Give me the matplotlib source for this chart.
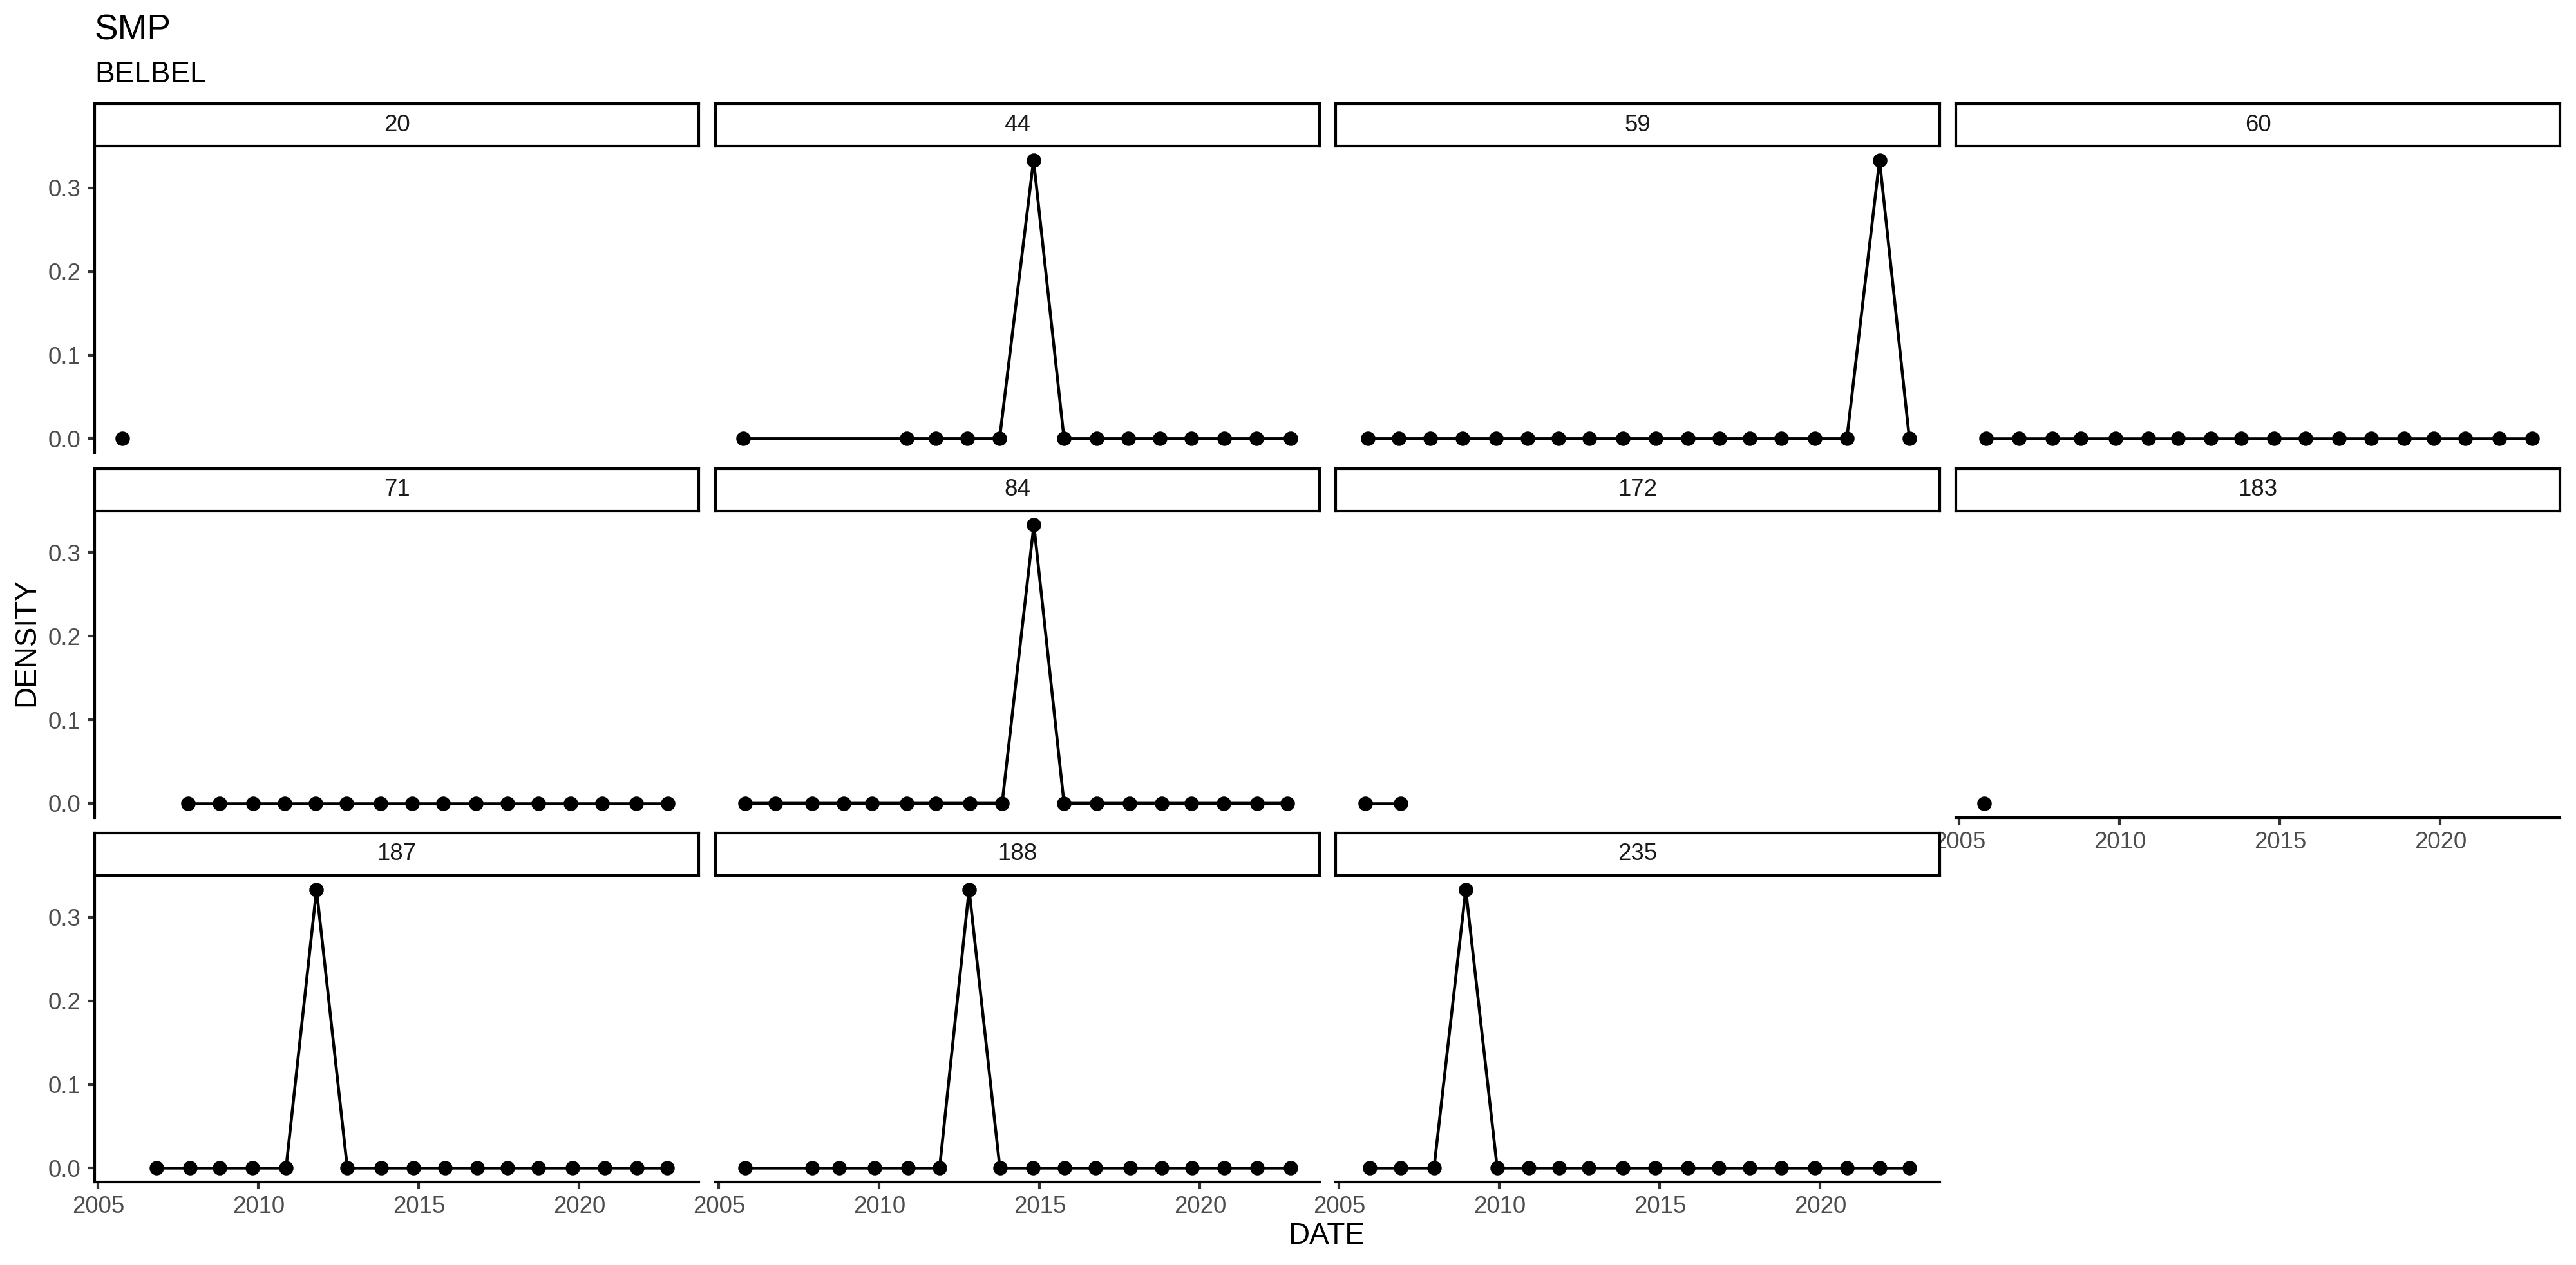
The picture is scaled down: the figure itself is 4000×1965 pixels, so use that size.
import matplotlib
matplotlib.use("Agg")
import matplotlib.pyplot as plt

plt.rcParams["font.family"] = ["Liberation Sans", "DejaVu Sans"]

# ─── Data: decimal year of each survey, density per site ─────────
SITES = ["20", "44", "59", "60", "71", "84", "172", "183", "187", "188", "235"]

years_20 = [2005.75]
dens_20 = [0.0]

years_44 = [2005.76, 2010.85, 2011.76, 2012.75, 2013.75, 2014.81, 2015.76,
            2016.77, 2017.77, 2018.75, 2019.73, 2020.75, 2021.76, 2022.83]
dens_44 = [0, 0, 0, 0, 0, 0.3333, 0, 0, 0, 0, 0, 0, 0, 0]

years_59 = [2005.90, 2006.86, 2007.85, 2008.84, 2009.90, 2010.88, 2011.84,
            2012.80, 2013.84, 2014.87, 2015.87, 2016.85, 2017.81, 2018.78,
            2019.83, 2020.83, 2021.85, 2022.78]
dens_59 = [0, 0, 0, 0, 0, 0, 0, 0, 0, 0, 0, 0, 0, 0, 0, 0, 0.3333, 0]

years_60 = [2005.84, 2006.86, 2007.91, 2008.78, 2009.88, 2010.90, 2011.82,
            2012.84, 2013.78, 2014.81, 2015.80, 2016.83, 2017.85, 2018.87,
            2019.79, 2020.78, 2021.83, 2022.87]
dens_60 = [0, 0, 0, 0, 0, 0, 0, 0, 0, 0, 0, 0, 0, 0, 0, 0, 0, 0]

years_71 = [2007.81, 2008.79, 2009.84, 2010.81, 2011.79, 2012.75, 2013.81,
            2014.79, 2015.76, 2016.77, 2017.76, 2018.72, 2019.73, 2020.71,
            2021.78, 2022.76]
dens_71 = [0, 0, 0, 0, 0, 0, 0, 0, 0, 0, 0, 0, 0, 0, 0, 0]

years_84 = [2005.82, 2006.77, 2007.91, 2008.89, 2009.78, 2010.86, 2011.76,
            2012.83, 2013.83, 2014.82, 2015.76, 2016.77, 2017.81, 2018.80,
            2019.74, 2020.74, 2021.78, 2022.72]
dens_84 = [0, 0, 0, 0, 0, 0, 0, 0, 0, 0.3333, 0, 0, 0, 0, 0, 0, 0, 0]

years_172 = [2005.82, 2006.92]
dens_172 = [0, 0]

years_183 = [2005.77]
dens_183 = [0.0]

years_187 = [2006.82, 2007.86, 2008.79, 2009.81, 2010.86, 2011.81, 2012.77,
             2013.82, 2014.83, 2015.82, 2016.81, 2017.76, 2018.73, 2019.80,
             2020.79, 2021.80, 2022.75]
dens_187 = [0, 0, 0, 0, 0, 0.3333, 0, 0, 0, 0, 0, 0, 0, 0, 0, 0, 0]

years_188 = [2005.81, 2007.91, 2008.75, 2009.85, 2010.90, 2011.88, 2012.80,
             2013.76, 2014.79, 2015.77, 2016.73, 2017.83, 2018.80, 2019.76,
             2020.75, 2021.78, 2022.83]
dens_188 = [0, 0, 0, 0, 0, 0, 0.3333, 0, 0, 0, 0, 0, 0, 0, 0, 0, 0]

years_235 = [2005.95, 2006.92, 2007.96, 2008.95, 2009.93, 2010.92, 2011.87,
             2012.79, 2013.84, 2014.86, 2015.87, 2016.84, 2017.81, 2018.78,
             2019.84, 2020.83, 2021.85, 2022.78]
dens_235 = [0, 0, 0, 0.3333, 0, 0, 0, 0, 0, 0, 0, 0, 0, 0, 0, 0, 0, 0]

YEARS = [years_20, years_44, years_59, years_60, years_71, years_84,
         years_172, years_183, years_187, years_188, years_235]
DENS = [dens_20, dens_44, dens_59, dens_60, dens_71, dens_84,
        dens_172, dens_183, dens_187, dens_188, dens_235]

X_TICKS = [2005, 2010, 2015, 2020]
Y_TICKS = [0.0, 0.1, 0.2, 0.3]

# ─── Layout (pixel grid of a 4000x1965 canvas) ───────────────────
W, H, DPI = 4000, 1965, 300
COL_LEFT = [147, 1111, 2074, 3037]
PANEL_W = 938
ROW_TOP = [161, 727.5, 1294]
STRIP_H = 66
PANEL_H = 476
NCOL = 4

all_x = [v for ys in YEARS for v in ys]
all_y = [v for ds in DENS for v in ds]
xr = max(all_x) - min(all_x)
yr = max(all_y) - min(all_y)
XLIM = (min(all_x) - 0.05 * xr, max(all_x) + 0.05 * xr)
YLIM = (min(all_y) - 0.05 * yr, max(all_y) + 0.05 * yr)


def frac_box(x0, y0, w, h):
    return [x0 / W, 1 - (y0 + h) / H, w / W, h / H]


fig = plt.figure(figsize=(W / DPI, H / DPI), dpi=DPI)

n = len(SITES)
for i, site in enumerate(SITES):
    r, c = divmod(i, NCOL)
    x0 = COL_LEFT[c]
    top = ROW_TOP[r]

    # panel
    ax = fig.add_axes(frac_box(x0, top + STRIP_H, PANEL_W, PANEL_H))
    ax.patch.set_alpha(0)
    ax.plot(YEARS[i], DENS[i], color="black", lw=1.1, marker="o",
            markersize=4.4, clip_on=False)
    ax.set_xlim(*XLIM)
    ax.set_ylim(*YLIM)
    ax.spines["top"].set_visible(False)
    ax.spines["right"].set_visible(False)

    bottom_row = (i + NCOL >= n)
    left_col = (c == 0)

    ax.set_xticks(X_TICKS)
    ax.set_yticks(Y_TICKS)
    ax.tick_params(axis="both", length=11.5 * 72 / DPI, width=1.0,
                   color="#333333", labelcolor="#4D4D4D", labelsize=8.8,
                   pad=2.4)
    ax.set_yticklabels([f"{v:.1f}" for v in Y_TICKS])
    ax.set_xticklabels([str(v) for v in X_TICKS])

    if bottom_row:
        ax.spines["bottom"].set_linewidth(1.0)
    else:
        ax.spines["bottom"].set_visible(False)
        ax.tick_params(axis="x", bottom=False, labelbottom=False)
    if left_col:
        ax.spines["left"].set_linewidth(1.0)
    else:
        ax.spines["left"].set_visible(False)
        ax.tick_params(axis="y", left=False, labelleft=False)

    # strip (drawn on top so its border stays whole)
    sax = fig.add_axes(frac_box(x0, top, PANEL_W, STRIP_H))
    sax.set_xticks([])
    sax.set_yticks([])
    for sp in sax.spines.values():
        sp.set_linewidth(1.0)
        sp.set_color("black")
    sax.text(0.5, 0.5, site, ha="center", va="center", fontsize=8.8,
             color="#1A1A1A", transform=sax.transAxes)

fig.text(147 / W, 1 - 62 / H, "SMP", fontsize=13.2, ha="left", va="baseline")
fig.text(147 / W, 1 - 128 / H, "BELBEL", fontsize=11, ha="left", va="baseline")
fig.text(2060 / W, 1 - 1932 / H, "DATE", fontsize=11, ha="center", va="baseline")
fig.text(41 / W, 1 - 998 / H, "DENSITY", fontsize=11, ha="center", va="center",
         rotation=90)

fig.savefig("out.png", dpi=DPI)
plt.close(fig)
